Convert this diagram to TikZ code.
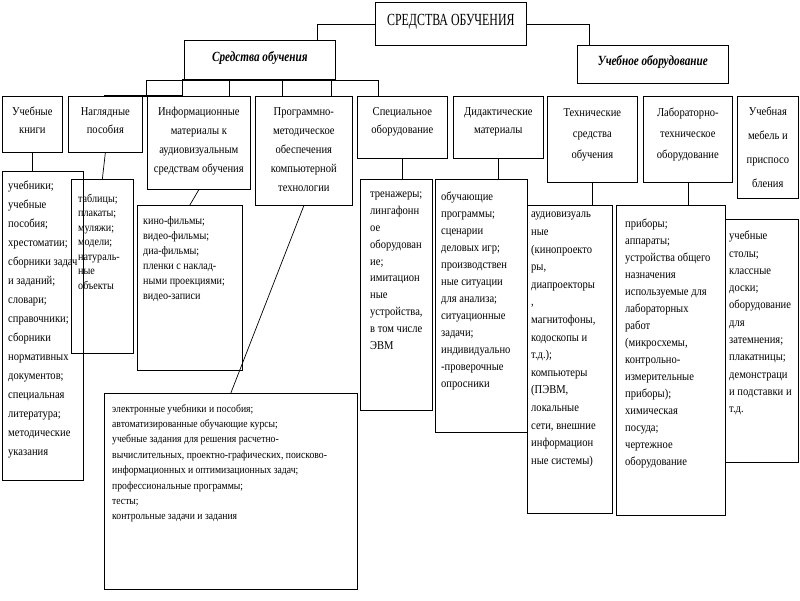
\documentclass[tikz,border=0pt]{standalone}
\usepackage{fontspec}
\setmainfont{Liberation Serif}[FakeStretch=0.88]
\newfontfamily\titlefont{Liberation Serif}[FakeStretch=0.7]
\newfontfamily\itfont{Liberation Serif}[FakeStretch=0.8]
\usetikzlibrary{calc}
\tikzset{
  bx/.style={draw, line width=0.7pt, inner sep=0pt, anchor=north west},
  ln/.style={draw, line width=0.7pt},
  thk/.style={draw, line width=1.8pt},
  hdr/.style={inner sep=0pt, align=center, anchor=north},
  txt/.style={inner sep=0pt, align=left, anchor=north west},
}
\newcommand{\fs}[2]{\fontsize{#1}{#2}\selectfont}
\begin{document}
\begin{tikzpicture}[x=1pt,y=-1pt]
\fill[white] (0,0) rectangle (800,600);
\useasboundingbox (0,0) rectangle (800,600);

% top level
\node[bx, minimum width=151, minimum height=43] (main) at (375,2) {};
\node[inner sep=0pt, font=\titlefont\fs{17}{20}] (maint) at ([yshift=2]main.center) {СРЕДСТВА ОБУЧЕНИЯ};
\node[bx, minimum width=151, minimum height=39] (sr) at (184,40) {};
\node[inner sep=0pt, font=\itfont\bfseries\itshape\fs{14}{16}] (srt) at ([yshift=2]sr.center) {Средства обучения};
\node[bx, minimum width=151, minimum height=38] (ob) at (577,45) {};
\node[inner sep=0pt, font=\itfont\bfseries\itshape\fs{14}{16}] (obt) at ([yshift=2]ob.center) {Учебное оборудование};

\draw[ln] (main.west) -| ($(sr.north west)!0.88!(sr.north east)$);
\draw[ln] (main.east) -| ($(ob.north west)!0.08!(ob.north east)$);

% header boxes
\node[bx, minimum width=60, minimum height=56] (h1) at (2,96) {};
\node[bx, minimum width=74, minimum height=56] (h2) at (68,96) {};
\node[bx, minimum width=103, minimum height=93] (h3) at (147,96) {};
\node[bx, minimum width=97, minimum height=109] (h4) at (255,96) {};
\node[bx, minimum width=90, minimum height=62] (h5) at (357,96) {};
\node[bx, minimum width=90, minimum height=62] (h6) at (453,96) {};
\node[bx, minimum width=90, minimum height=86] (h7) at (547,96) {};
\node[bx, minimum width=89, minimum height=86] (h8) at (643,96) {};
\node[bx, minimum width=61, minimum height=102] (h9) at (737,96) {};

\node[hdr, font=\fs{12}{18}] (h1t) at ([yshift=-11]h1.north) {Учебные\\книги};
\node[hdr, font=\fs{12}{18}] (h2t) at ([yshift=-11]h2.north) {Наглядные\\пособия};
\node[hdr, font=\fs{12}{19}] (h3t) at ([yshift=-11]h3.north) {Информационные\\материалы к\\аудиовизуальным\\средствам обучения};
\node[hdr, font=\fs{12}{19}] (h4t) at ([yshift=-11]h4.north) {Программно-\\методическое\\обеспечения\\компьютерной\\технологии};
\node[hdr, font=\fs{12}{18}] (h5t) at ([yshift=-11]h5.north) {Специальное\\оборудование};
\node[hdr, font=\fs{12}{18}] (h6t) at ([yshift=-11]h6.north) {Дидактические\\материалы};
\node[hdr, font=\fs{12}{21}] (h7t) at ([yshift=-12]h7.north) {Технические\\средства\\обучения};
\node[hdr, font=\fs{12}{21}] (h8t) at ([yshift=-12]h8.north) {Лабораторно-\\техническое\\оборудование};
\node[hdr, font=\fs{12}{24}] (h9t) at ([yshift=-11]h9.north) {Учебная\\мебель и\\приспосо\\бления};

% bus under "Средства обучения"
\coordinate (b1) at (146,80);
\coordinate (b2) at (182,80);
\coordinate (b3) at (229,80);
\coordinate (b4) at (282,80);
\coordinate (b5) at (331,80);
\coordinate (b6) at (378,80);
\coordinate (bt) at (260,80);
\coordinate (bu) at (104,96);
\draw[ln] (b1) -- (b6);
\foreach \c in {b1,b2,b3,b4,b5,b6} \draw[ln] (\c) -- (\c |- h1.north);
\draw[thk] (b2) -- (bt);
\draw[thk] (bu) -- (b2 |- h1.north);

% bus under "Учебное оборудование"
\foreach \f in {0.30,0.615,0.89} \draw[ln] ($(ob.south west)!\f!(ob.south east)$) -- ($(ob.south west)!\f!(ob.south east)$ |- h7.north);

% content boxes
\node[bx, minimum width=81, minimum height=309] (c1) at (2,171) {};
\node[bx, minimum width=62, minimum height=174] (c2) at (71,179) {};
\node[bx, minimum width=105, minimum height=165] (c3) at (137,205) {};
\node[bx, minimum width=253, minimum height=196] (c4) at (104,393) {};
\node[bx, minimum width=72, minimum height=231] (c5) at (360,179) {};
\node[bx, minimum width=92, minimum height=253] (c6) at (435,179) {};
\node[bx, minimum width=85, minimum height=308] (c7) at (527,205) {};
\node[bx, minimum width=109, minimum height=310] (c8) at (616,205) {};
\node[bx, minimum width=73, minimum height=243] (c9) at (725,219) {};

% connectors
\draw[ln] (h1.south) -- (h1.south |- c1.north);
\draw[ln] (h2.south) -- (c2.north);
\draw[ln] (h3.south) -- (c3.north);
\draw[ln] (h4.south) -- (c4.north);
\draw[ln] (h5.south) -- (h5.south |- c5.north);
\draw[ln] (h6.south) -- (h6.south |- c6.north);
\draw[ln] (h7.south) -- (h7.south |- c7.north);
\draw[ln] (h8.south) -- (h8.south |- c8.north);
\draw[ln] ($(h9.south west)!0.6!(h9.south east)$) -- ($(h9.south west)!0.6!(h9.south east)$ |- c9.north);

% content texts
\begin{scope}
\clip (c1.north west) rectangle (c1.south east);
\node[txt, font=\fs{12}{19}] (c1t) at ([shift={(6,10)}]c1.north west) {учебники;\\учебные\\пособия;\\хрестоматии;\\сборники задач\\и заданий;\\словари;\\справочники;\\сборники\\нормативных\\документов;\\специальная\\литература;\\методические\\указания};
\end{scope}
\node[txt, font=\fs{11.5}{14.5}] (c2t) at ([shift={(7,15)}]c2.north west) {таблицы;\\плакаты;\\муляжи;\\модели;\\натураль-\\ные\\объекты};
\node[txt, font=\fs{11.5}{15}] (c3t) at ([shift={(6,11)}]c3.north west) {кино-фильмы;\\видео-фильмы;\\диа-фильмы;\\пленки с наклад-\\ными проекциями;\\видео-записи};
\node[txt, font=\fs{11}{15.4}] (c4t) at ([shift={(8,11)}]c4.north west) {электронные учебники и пособия;\\автоматизированные обучающие курсы;\\учебные задания для решения расчетно-\\вычислительных, проектно-графических, поисково-\\информационных и оптимизационных задач;\\профессиональные программы;\\тесты;\\контрольные задачи и задания};
\node[txt, font=\fs{12}{16.8}] (c5t) at ([shift={(10,13)}]c5.north west) {тренажеры;\\лингафонн\\ое\\оборудован\\ие;\\имитацион\\ные\\устройства,\\в том числе\\ЭВМ};
\node[txt, font=\fs{12}{17}] (c6t) at ([shift={(6,13)}]c6.north west) {обучающие\\программы;\\сценарии\\деловых игр;\\производствен\\ные ситуации\\для анализа;\\ситуационные\\задачи;\\индивидуально\\-проверочные\\опросники};
\node[txt, font=\fs{12}{17.6}] (c7t) at ([shift={(4,7)}]c7.north west) {аудиовизуаль\\ные\\(кинопроекто\\ры,\\диапроекторы\\,\\магнитофоны,\\кодоскопы и\\т.д.);\\компьютеры\\(ПЭВМ,\\локальные\\сети, внешние\\информацион\\ные системы)};
\node[txt, font=\fs{12}{17}] (c8t) at ([shift={(9,14)}]c8.north west) {приборы;\\аппараты;\\устройства общего\\назначения\\используемые для\\лабораторных\\работ\\(микросхемы,\\контрольно-\\измерительные\\приборы);\\химическая\\посуда;\\чертежное\\оборудование};
\node[txt, font=\fs{12}{17.3}] (c9t) at ([shift={(4,12)}]c9.north west) {учебные\\столы;\\классные\\доски;\\оборудование\\для\\затемнения;\\плакатницы;\\демонстраци\\и подставки и\\т.д.};
\end{tikzpicture}
\end{document}
